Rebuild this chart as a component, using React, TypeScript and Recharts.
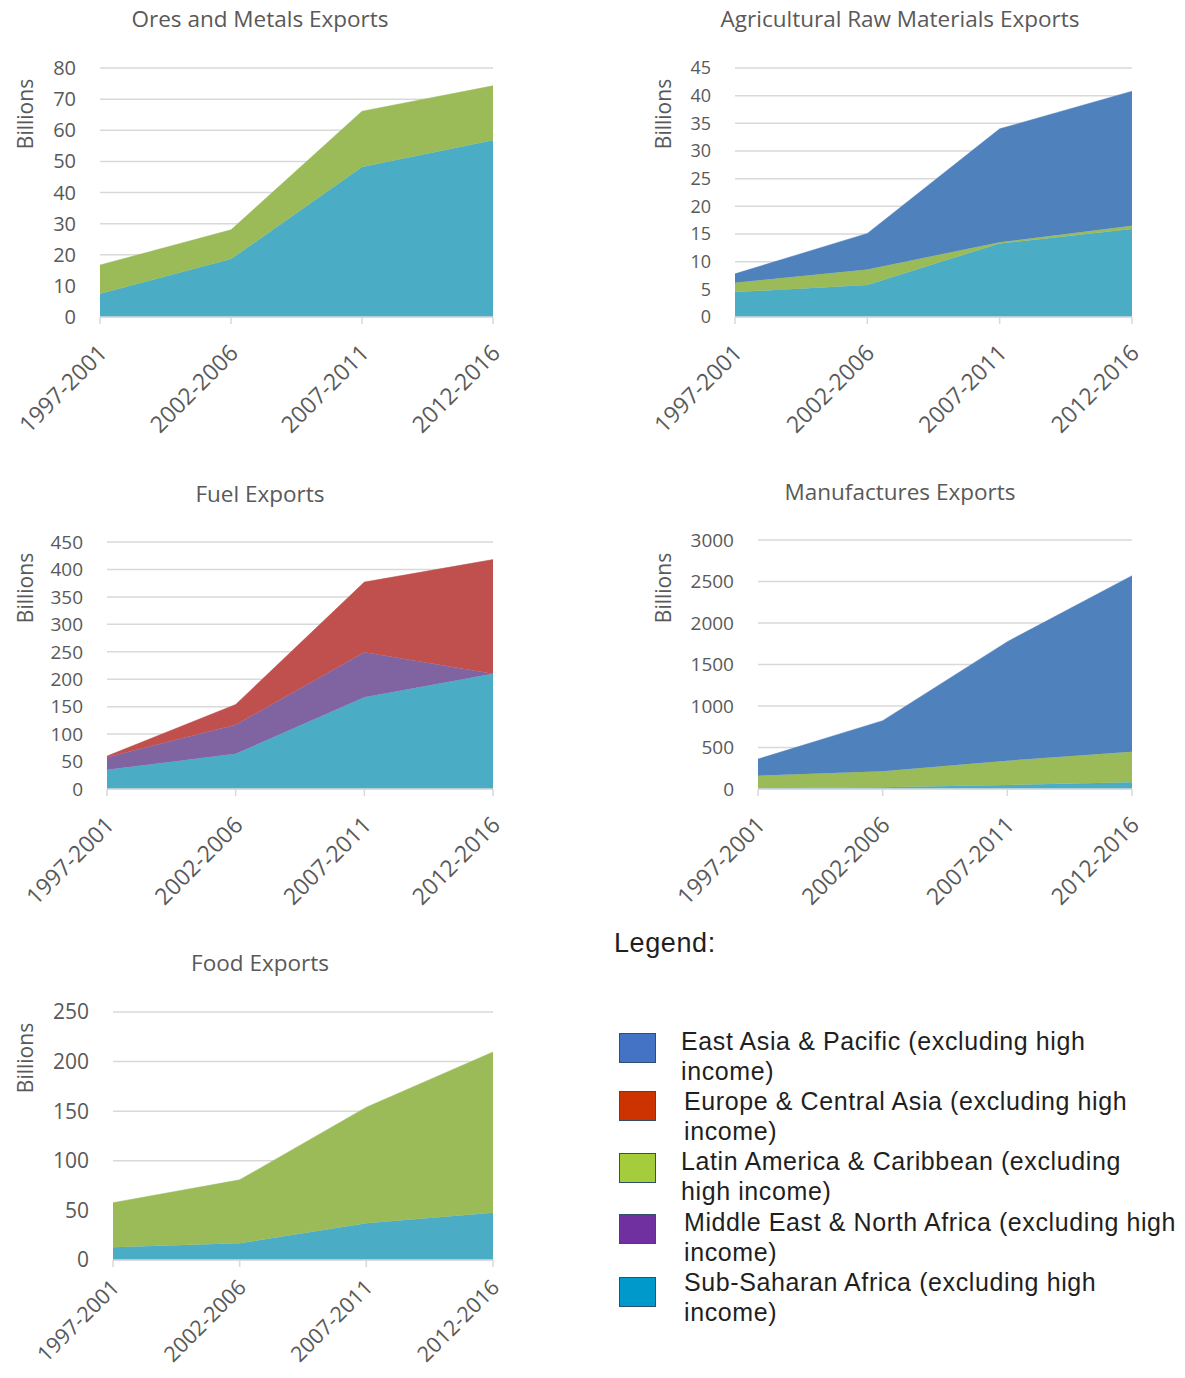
import { Area, AreaChart, CartesianGrid, XAxis, YAxis } from 'recharts';

const PERIODS = ['1997-2001', '2002-2006', '2007-2011', '2012-2016'];

// values in billions (bottom layer first)
const ORES_SSA = [7.5, 18.6, 48.2, 56.8];
const ORES_LAC = [9.2, 9.4, 17.9, 17.5];
const ORES_TICKS = [0, 10, 20, 30, 40, 50, 60, 70, 80];

const AGRI_SSA = [4.5, 5.8, 13.3, 15.9];
const AGRI_LAC = [1.7, 2.8, 0.2, 0.6];
const AGRI_EAP = [1.6, 6.5, 20.5, 24.3];
const AGRI_TICKS = [0, 5, 10, 15, 20, 25, 30, 35, 40, 45];

const FUEL_SSA = [35, 64, 167, 210];
const FUEL_MENA = [23, 53, 82, 0];
const FUEL_ECA = [2, 37, 128, 208];
const FUEL_TICKS = [0, 50, 100, 150, 200, 250, 300, 350, 400, 450];

const MANUF_SSA = [10, 20, 48, 80];
const MANUF_LAC = [150, 193, 293, 370];
const MANUF_EAP = [201, 610, 1434, 2120];
const MANUF_TICKS = [0, 500, 1000, 1500, 2000, 2500, 3000];

const FOOD_SSA = [12.8, 16.8, 37, 47.7];
const FOOD_LAC = [45, 64, 117, 162];
const FOOD_TICKS = [0, 50, 100, 150, 200, 250];

const REGIONS = [
  { id: 'eap', label: ['East Asia & Pacific (excluding high', 'income)'], swatch: '#4472c4' },
  { id: 'eca', label: ['Europe & Central Asia (excluding high', 'income)'], swatch: '#cc3300' },
  { id: 'lac', label: ['Latin America & Caribbean (excluding', 'high income)'], swatch: '#a5cc3a' },
  { id: 'mena', label: ['Middle East & North Africa (excluding high', 'income)'], swatch: '#7030a0' },
  { id: 'ssa', label: ['Sub-Saharan Africa (excluding high', 'income)'], swatch: '#0099cc' },
];

// chart fills (Office palette)
const FILL: Record<string, string> = {
  ssa: '#4bacc6',
  lac: '#9bbb59',
  eap: '#4f81bd',
  mena: '#8064a2',
  eca: '#c0504d',
};

const FONT = "'Open Sans', 'Noto Sans', sans-serif";
const ARIAL = "'Liberation Sans', Arial, sans-serif";
const TEXT = '#595959';
const GRID = '#d9d9d9';

type Row = Record<string, number | string>;

function toRows(series: Record<string, number[]>): Row[] {
  return PERIODS.map((period, i) => {
    const row: Row = { period };
    for (const [k, vals] of Object.entries(series)) row[k] = vals[i];
    return row;
  });
}

interface Box {
  left: number;
  plotLeft: number;
  plotRight: number;
  plotTop: number;
  plotBottom: number;
  titleX: number;
  titleY: number;
  billionsX: number;
  billionsY: number;
  tickFont: number;
  // x label room below the axis (the food chart sits at the page bottom)
  xHeight?: number;
  xFont?: number;
  xMargin?: number;
}

function ExportChart({
  title,
  series,
  ticks,
  box,
}: {
  title: string;
  series: Record<string, number[]>;
  ticks: number[];
  box: Box;
}) {
  const data = toRows(series);
  const padTop = 20;
  const padRight = 40;
  const top = box.plotTop - padTop;
  const xAxisHeight = box.xHeight ?? 140;
  const width = box.plotRight - box.left + padRight;
  const height = box.plotBottom - top + xAxisHeight;
  return (
    <>
      <div
        style={{
          position: 'absolute',
          left: box.titleX - 250,
          top: box.titleY - 16,
          width: 500,
          textAlign: 'center',
          fontFamily: FONT,
          fontSize: 22.5,
          lineHeight: '32px',
          color: TEXT,
        }}
      >
        {title}
      </div>
      <div
        style={{
          position: 'absolute',
          left: box.billionsX - 50,
          top: box.billionsY - 14,
          width: 100,
          textAlign: 'center',
          fontFamily: FONT,
          fontSize: 21,
          lineHeight: '28px',
          color: TEXT,
          transform: 'rotate(-90deg)',
        }}
      >
        Billions
      </div>
      <div style={{ position: 'absolute', left: box.left, top }}>
        <AreaChart
          width={width}
          height={height}
          data={data}
          margin={{ top: padTop, right: padRight, left: 0, bottom: 0 }}
        >
          <CartesianGrid vertical={false} stroke={GRID} strokeWidth={1.5} />
          <XAxis
            dataKey="period"
            height={xAxisHeight}
            interval={0}
            axisLine={{ stroke: GRID, strokeWidth: 1.5 }}
            tickLine={{ stroke: GRID, strokeWidth: 1.5 }}
            tickSize={7}
            tickMargin={box.xMargin ?? 19}
            tick={{
              angle: -45,
              textAnchor: 'end',
              fill: TEXT,
              fontSize: box.xFont ?? 23,
              fontFamily: FONT,
              dx: -3,
            }}
          />
          <YAxis
            width={box.plotLeft - box.left}
            domain={[0, ticks[ticks.length - 1]]}
            ticks={ticks}
            interval={0}
            axisLine={false}
            tickLine={false}
            tickMargin={18}
            tick={{ fill: TEXT, fontSize: box.tickFont, fontFamily: FONT }}
          />
          {Object.keys(series).map((k) => (
            <Area
              key={k}
              dataKey={k}
              stackId="s"
              type="linear"
              fill={FILL[k]}
              fillOpacity={1}
              stroke={FILL[k]}
              strokeWidth={0.5}
              dot={false}
              activeDot={false}
              isAnimationActive={false}
            />
          ))}
        </AreaChart>
      </div>
    </>
  );
}

function Legend() {
  const rowTops = [1031, 1091, 1151, 1212, 1272];
  const swatchTops = [1033, 1091, 1153, 1214, 1277];
  const textLefts = [681, 684, 681, 684, 684];
  return (
    <>
      <div
        style={{
          position: 'absolute',
          left: 614,
          top: 928,
          fontFamily: ARIAL,
          fontSize: 27,
          letterSpacing: 0.6,
          color: '#1f1f1f',
        }}
      >
        Legend:
      </div>
      {REGIONS.map((r, i) => (
        <div key={r.id}>
          <div
            style={{
              position: 'absolute',
              left: 619,
              top: swatchTops[i],
              width: 35,
              height: 28,
              background: r.swatch,
              border: '1.5px solid #2f4f6f',
            }}
          />
          <div
            style={{
              position: 'absolute',
              left: textLefts[i],
              top: rowTops[i] - 5,
              fontFamily: ARIAL,
              fontSize: 25,
              letterSpacing: 0.6,
              lineHeight: '30px',
              color: '#1f1f1f',
              whiteSpace: 'nowrap',
            }}
          >
            {r.label[0]}
            <br />
            {r.label[1]}
          </div>
        </div>
      ))}
    </>
  );
}

export default function App() {
  return (
    <div
      style={{
        position: 'absolute',
        left: 0,
        top: 0,
        width: 1185,
        height: 1378,
        background: '#fff',
        overflow: 'hidden',
      }}
    >
      <ExportChart
        title="Ores and Metals Exports"
        series={{ ssa: ORES_SSA, lac: ORES_LAC }}
        ticks={ORES_TICKS}
        box={{ left: 0, plotLeft: 100, plotRight: 493, plotTop: 68, plotBottom: 317, titleX: 260, titleY: 19, billionsX: 25, billionsY: 114, tickFont: 20 }}
      />
      <ExportChart
        title="Agricultural Raw Materials Exports"
        series={{ ssa: AGRI_SSA, lac: AGRI_LAC, eap: AGRI_EAP }}
        ticks={AGRI_TICKS}
        box={{ left: 640, plotLeft: 735, plotRight: 1132, plotTop: 68, plotBottom: 317, titleX: 900, titleY: 19, billionsX: 663, billionsY: 114, tickFont: 18 }}
      />
      <ExportChart
        title="Fuel Exports"
        series={{ ssa: FUEL_SSA, mena: FUEL_MENA, eca: FUEL_ECA }}
        ticks={FUEL_TICKS}
        box={{ left: 0, plotLeft: 107, plotRight: 493, plotTop: 542, plotBottom: 789, titleX: 260, titleY: 494, billionsX: 25, billionsY: 588, tickFont: 19 }}
      />
      <ExportChart
        title="Manufactures Exports"
        series={{ ssa: MANUF_SSA, lac: MANUF_LAC, eap: MANUF_EAP }}
        ticks={MANUF_TICKS}
        box={{ left: 640, plotLeft: 758, plotRight: 1132, plotTop: 540, plotBottom: 789, titleX: 900, titleY: 492, billionsX: 663, billionsY: 588, tickFont: 19 }}
      />
      <ExportChart
        title="Food Exports"
        series={{ ssa: FOOD_SSA, lac: FOOD_LAC }}
        ticks={FOOD_TICKS}
        box={{ left: 0, plotLeft: 113, plotRight: 493, plotTop: 1012, plotBottom: 1260, titleX: 260, titleY: 963, billionsX: 25, billionsY: 1058, tickFont: 21, xHeight: 118, xFont: 21.5, xMargin: 11 }}
      />
      <Legend />
    </div>
  );
}
